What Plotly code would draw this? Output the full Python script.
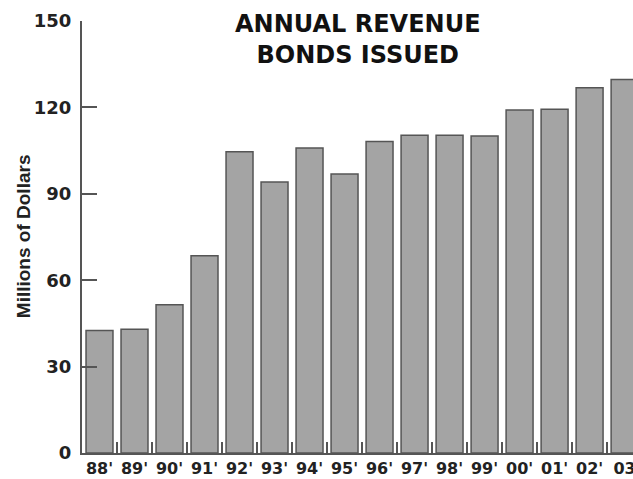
import plotly.graph_objects as go

years = ["88'", "89'", "90'", "91'", "92'", "93'", "94'", "95'",
         "96'", "97'", "98'", "99'", "00'", "01'", "02'", "03"]
revenue = [42.5, 43.0, 51.5, 68.5, 104.6, 94.1, 105.9, 96.9,
           108.2, 110.3, 110.3, 110.1, 119.1, 119.4, 126.8, 129.7]
y_ticks = [0, 30, 60, 90, 120, 150]
title_lines = ["ANNUAL REVENUE", "BONDS ISSUED"]
y_title = "Millions of Dollars"

fig = go.Figure(go.Bar(
    x=years, y=revenue,
    marker=dict(color="#a4a4a4", line=dict(color="#555555", width=1.5)),
))

fig.update_layout(
    width=633, height=479,
    margin=dict(l=82, r=0, t=21, b=26, autoexpand=False),
    paper_bgcolor="white", plot_bgcolor="white",
    bargap=0.23, showlegend=False,
    font=dict(family="DejaVu Sans", color="#222222"),
)
fig.update_xaxes(
    type="category", range=[-0.5, 15.24], tickangle=0, automargin=False,
    showline=True, linecolor="#555555", linewidth=2,
    ticks="inside", tickson="boundaries", ticklen=11, tickcolor="#555555", tickwidth=1.5,
    tickfont=dict(family="DejaVu Sans", size=16, weight="bold", color="#222222"),
    showgrid=False, zeroline=False, ticklabelstandoff=0,
)
fig.update_yaxes(
    range=[0, 150], tickvals=y_ticks, automargin=False,
    showline=True, linecolor="#555555", linewidth=2,
    ticks="inside", ticklen=15, tickcolor="#555555", tickwidth=2,
    tickfont=dict(family="DejaVu Sans", size=18, weight="bold", color="#222222"),
    showgrid=False, zeroline=False, ticklabelstandoff=5,
)
fig.add_annotation(
    text="<br>".join(title_lines), xref="paper", yref="paper",
    x=0.501, y=0.958, xanchor="center", yanchor="middle", showarrow=False,
    font=dict(family="DejaVu Sans", size=24, weight="bold", color="#111111"),
)
fig.add_annotation(
    text=y_title, xref="paper", yref="paper", textangle=-90,
    x=-0.107, y=0.502, xanchor="center", yanchor="middle", showarrow=False,
    font=dict(family="Liberation Sans", size=19, weight="bold", color="#222222"),
)

fig.write_html("out.html")
